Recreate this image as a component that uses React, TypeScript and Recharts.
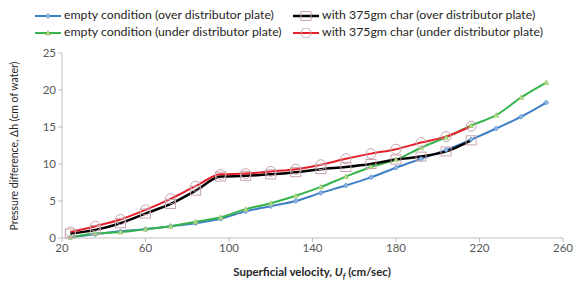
import { LineChart, Line, XAxis, YAxis } from "recharts";

const velocity = [24, 36, 48, 60, 72, 84, 96, 108, 120, 132, 144, 156, 168, 180, 192, 204, 216, 228, 240, 252];
const emptyOver = [0.1, 0.5, 0.9, 1.2, 1.6, 2.0, 2.6, 3.6, 4.3, 5.0, 6.1, 7.1, 8.2, 9.5, 10.7, 11.9, 13.3, 14.8, 16.4, 18.3];
const emptyUnder = [0.1, 0.6, 0.8, 1.2, 1.6, 2.2, 2.8, 3.9, 4.7, 5.7, 6.9, 8.3, 9.6, 10.6, 12.2, 13.6, 15.2, 16.6, 19.0, 21.0];
const charOver = [0.6, 1.1, 2.0, 3.3, 4.6, 6.4, 8.3, 8.4, 8.6, 8.9, 9.3, 9.6, 10.0, 10.6, 11.0, 11.7, 13.2];
const charUnder = [0.8, 1.6, 2.5, 3.8, 5.3, 7.0, 8.6, 8.7, 9.0, 9.3, 9.9, 10.7, 11.4, 12.0, 12.9, 13.7, 15.1];
const xTicks = [20, 60, 100, 140, 180, 220, 260];
const yTicks = [0, 5, 10, 15, 20, 25];

const data = velocity.map((x, i) => ({
  x,
  emptyOver: emptyOver[i],
  emptyUnder: emptyUnder[i],
  charOver: charOver[i],
  charUnder: charUnder[i],
}));

const FONT = "Lato, 'Liberation Sans', sans-serif";
const BLUE = "#3f7fc6";
const GREEN = "#34b44a";
const MARKER = "#c8a4ae";

// small marker shapes, Excel style
function Diamond({ cx, cy }: any) {
  if (cx == null || cy == null) return null;
  return <path d={`M${cx},${cy - 2.5}L${cx + 2.5},${cy}L${cx},${cy + 2.5}L${cx - 2.5},${cy}Z`} fill="#8fb4e0" stroke={BLUE} strokeWidth={0.6} />;
}
function Triangle({ cx, cy }: any) {
  if (cx == null || cy == null) return null;
  return <path d={`M${cx},${cy - 2.5}L${cx + 2.5},${cy + 2}L${cx - 2.5},${cy + 2}Z`} fill="#b6dc8a" stroke="#8cc060" strokeWidth={0.6} />;
}
function Square({ cx, cy }: any) {
  if (cx == null || cy == null) return null;
  return <rect x={cx - 5} y={cy - 4.5} width={10} height={9} fill="none" stroke={MARKER} strokeWidth={1} />;
}
function Circle({ cx, cy }: any) {
  if (cx == null || cy == null) return null;
  return <circle cx={cx} cy={cy} r={5} fill="none" stroke={MARKER} strokeWidth={1} />;
}

function XTitle() {
  return (
    <text x={312} y={276} textAnchor="middle" fontFamily={FONT} fontSize={11.5} fontWeight="bold" fill="#262626">
      Superficial velocity, <tspan fontStyle="italic">U</tspan>
      <tspan fontSize={8} dy={3} fontStyle="italic">f</tspan>
      <tspan dy={-3}> (cm/sec)</tspan>
    </text>
  );
}

function YTitle() {
  return (
    <text x={18} y={146} transform="rotate(-90 18 146)" textAnchor="middle" fontFamily={FONT} fontSize={10.5} fill="#262626">
      Pressure difference, Δh (cm of water)
    </text>
  );
}

function LegendIcon({ color, marker, width = 2 }: { color: string; marker: string; width?: number }) {
  return (
    <svg width={26} height={10} style={{ verticalAlign: "middle", marginRight: 3 }}>
      <line x1={0} y1={5} x2={26} y2={5} stroke={color} strokeWidth={width} />
      {marker === "diamond" && <Diamond cx={13} cy={5} />}
      {marker === "triangle" && <Triangle cx={13} cy={5} />}
      {marker === "square" && <Square cx={13} cy={5} />}
      {marker === "circle" && <Circle cx={13} cy={5} />}
    </svg>
  );
}

const legendItems = [
  { label: "empty condition (over distributor plate)", color: BLUE, marker: "diamond", left: 35, top: 7 },
  { label: "with 375gm char (over distributor plate)", color: "#000", marker: "square", left: 293, top: 7, width: 2.5 },
  { label: "empty condition (under distributor plate)", color: GREEN, marker: "triangle", left: 35, top: 24 },
  { label: "with 375gm char (under distributor plate)", color: "#e3202a", marker: "circle", left: 293, top: 24 },
];

export default function App() {
  return (
    <div style={{ position: "absolute", left: 0, top: 0, width: 578, height: 283, background: "#fff" }}>
      {legendItems.map((it) => (
        <div
          key={it.label}
          style={{ position: "absolute", left: it.left, top: it.top, fontFamily: FONT, fontSize: 12.3, color: "#262626", whiteSpace: "nowrap", lineHeight: "15px" }}
        >
          <LegendIcon color={it.color} marker={it.marker} width={it.width} />
          {it.label}
        </div>
      ))}
      <LineChart width={578} height={283} data={data} margin={{ top: 53, right: 15, bottom: 0, left: 22 }}>
        <XAxis
          dataKey="x"
          type="number"
          domain={[20, 260]}
          ticks={xTicks}
          height={45}
          stroke="#bfbfbf"
          tickSize={4}
          tick={{ fill: "#595959", fontSize: 11.5, fontFamily: FONT }}
          label={<XTitle />}
        />
        <YAxis
          domain={[0, 25]}
          ticks={yTicks}
          width={40}
          stroke="#bfbfbf"
          tickSize={4}
          tick={{ fill: "#595959", fontSize: 11.5, fontFamily: FONT }}
          label={<YTitle />}
        />
        <Line type="monotone" dataKey="emptyOver" stroke={BLUE} strokeWidth={2} dot={<Diamond />} isAnimationActive={false} />
        <Line type="monotone" dataKey="emptyUnder" stroke={GREEN} strokeWidth={2} dot={<Triangle />} isAnimationActive={false} />
        <Line type="monotone" dataKey="charOver" stroke="#000" strokeWidth={2.5} dot={<Square />} isAnimationActive={false} />
        <Line type="monotone" dataKey="charUnder" stroke="#e3202a" strokeWidth={2} dot={<Circle />} isAnimationActive={false} />
      </LineChart>
    </div>
  );
}
